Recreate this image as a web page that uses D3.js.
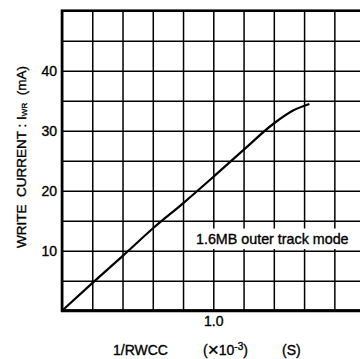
<!DOCTYPE html>
<html><head><meta charset="utf-8">
<script src="https://cdn.jsdelivr.net/npm/d3@7"></script>
<style>
html,body{margin:0;padding:0;background:#fff;}
svg{display:block;font-family:"Liberation Sans",Arial,Helvetica,sans-serif;}
text{stroke:#000;stroke-width:0.35px;}
</style></head>
<body>
<svg id="c" width="360" height="359"></svg>
<script>
// data
const recipX = [0, 0.2, 0.4, 0.6, 0.8, 1.0, 1.2, 1.4, 1.53, 1.635];
const writeCurrent = [0, 4.6, 9.1, 13.7, 17.9, 22.3, 26.8, 31.2, 33.4, 34.45];
const xGrid = [0,0.2,0.4,0.6,0.8,1.0,1.2,1.4,1.6,1.8,2.0];
const yGrid = [0,5,10,15,20,25,30,35,40,45,50];
const xTickLabels = [1.0];
const yTickLabels = [10,20,30,40];
const modeLabel = "1.6MB outer track mode";

const svg = d3.select("#c");
const L = 62, T = 10.7, B = 310.7, R = 364.6;
const x = d3.scaleLinear().domain([0, 2.0]).range([L, R]);
const y = d3.scaleLinear().domain([0, 50]).range([B, T]);

// grid
svg.append("g").attr("transform",`translate(0,${B})`)
  .call(d3.axisBottom(x).tickValues(xGrid).tickSize(-(B-T)).tickFormat(""))
  .call(g=>g.select(".domain").remove())
  .call(g=>g.selectAll("line").attr("stroke","#000").attr("stroke-width",1.5));
svg.append("g").attr("transform",`translate(${L},0)`)
  .call(d3.axisLeft(y).tickValues(yGrid).tickSize(-(R-L)).tickFormat(""))
  .call(g=>g.select(".domain").remove())
  .call(g=>g.selectAll("line").attr("stroke","#000").attr("stroke-width",1.5));

// frame
svg.append("rect").attr("x",L).attr("y",T).attr("width",R-L).attr("height",B-T)
  .attr("fill","none").attr("stroke","#000").attr("stroke-width",2.6);
svg.append("line").attr("x1",L-1).attr("x2",R).attr("y1",B).attr("y2",B)
  .attr("stroke","#000").attr("stroke-width",3);

// label box
svg.append("rect").attr("x",190).attr("y",228.5).attr("width",180).attr("height",20.5).attr("fill","#fff");
svg.append("text").attr("x",196).attr("y",243.5).attr("font-size",14.3).attr("fill","#000").text(modeLabel);

// curve
svg.append("path").datum(recipX.map((d,i)=>[d, writeCurrent[i]]))
  .attr("d", d3.line().x(d=>x(d[0])).y(d=>y(d[1])).curve(d3.curveMonotoneX))
  .attr("fill","none").attr("stroke","#000").attr("stroke-width",2.2);

// tick labels
svg.append("g").attr("transform",`translate(${L},0)`)
  .call(d3.axisLeft(y).tickValues(yTickLabels).tickSize(0).tickPadding(5).tickFormat(d3.format("d")))
  .call(g=>g.select(".domain").remove())
  .call(g=>g.selectAll("text").attr("font-size",14).attr("fill","#000").attr("font-family","Liberation Sans, Arial, sans-serif"));
svg.append("g").attr("transform",`translate(0,${B})`)
  .call(d3.axisBottom(x).tickValues(xTickLabels).tickSize(0).tickPadding(5).tickFormat(d3.format(".1f")))
  .call(g=>g.select(".domain").remove())
  .call(g=>g.selectAll("text").attr("font-size",14).attr("fill","#000").attr("font-family","Liberation Sans, Arial, sans-serif"));

// axis titles
const xt = svg.append("text").attr("y",355).attr("font-size",14).attr("fill","#000");
xt.append("tspan").attr("x",113).text("1/RWCC");
xt.append("tspan").attr("x",203).text("(");
xt.append("tspan").attr("font-size",19).attr("dy",1).text("×");
xt.append("tspan").attr("dy",-1).text("10");
xt.append("tspan").attr("dy",-5).attr("font-size",10).text("-3");
xt.append("tspan").attr("dy",5).text(")");
xt.append("tspan").attr("x",282).text("(S)");

const yt = svg.append("text").attr("transform","translate(26,157) rotate(-90)")
  .attr("text-anchor","middle").attr("font-size",13.5).attr("fill","#000");
yt.append("tspan").text("WRITE\u00a0\u00a0CURRENT : I");
yt.append("tspan").attr("font-size",8).attr("dy",1).text("WR");
yt.append("tspan").attr("dy",-1).text("\u00a0\u00a0(mA)");
</script>
</body></html>
